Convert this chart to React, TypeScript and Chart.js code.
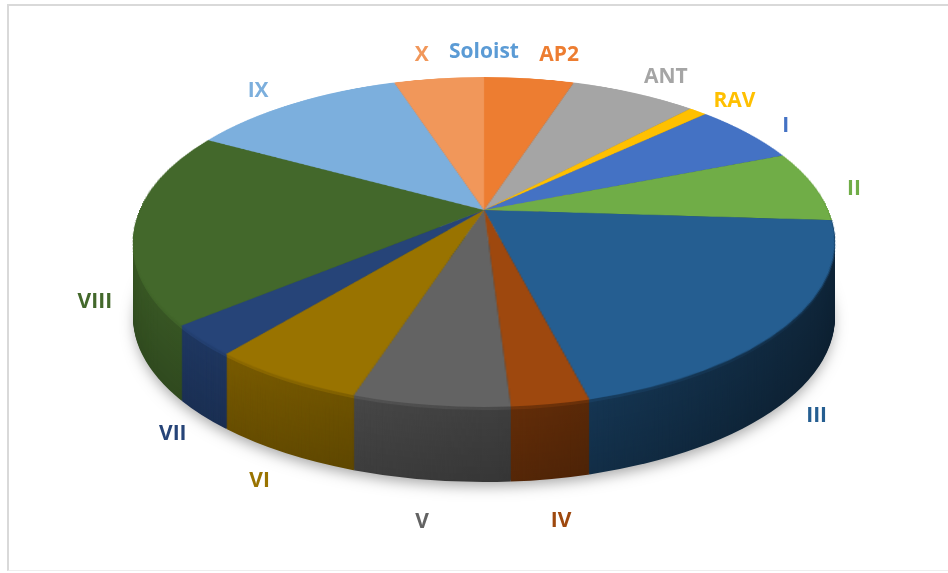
import React, { useEffect, useRef } from "react";
import { Chart, registerables } from "chart.js";

Chart.register(...registerables);

// ---- data ----
const categories = ["AP2", "ANT", "RAV", "I", "II", "III", "IV", "V", "VI", "VII", "VIII", "IX", "X", "Soloist"];
const shares = [5, 7, 1, 6, 7, 20, 3, 6, 6, 3, 19, 12, 5, 0];
const sliceColors = [
  "#ED7D31", "#A5A5A5", "#FFC000", "#4472C4", "#70AD47", "#255E91", "#9E480E",
  "#636363", "#997300", "#264478", "#43682B", "#7CAFDD", "#F1975A", "#5B9BD5",
];

// ---- layout / style ----
const W = 948;
const H = 573;
const RX = 351; // half width of the tilted top face
const TOP_Y = 77; // far edge of the top face
const BOT_Y = 407; // near edge of the top face
const APEX_Y = 210; // where the pie centre lands in perspective
const DEPTH = 75; // thickness
const FONT_SIZE = 21;
const FONT = `bold ${FONT_SIZE}px "Open Sans", Lato, sans-serif`;

// perspective constants: y = (A v + B) / (1 + C v), x = cx + S u / (1 + C v)
const B = APEX_Y;
const C = (BOT_Y + TOP_Y - 2 * B) / (TOP_Y - BOT_Y);
const A = B - TOP_Y + TOP_Y * C;
const S = RX * Math.sqrt(1 - C * C);
const CYE = (TOP_Y + BOT_Y) / 2;
const RY = (BOT_Y - TOP_Y) / 2;

function project(cx: number, u: number, v: number): [number, number] {
  const w = 1 + C * v;
  return [cx + (S * u) / w, (A * v + B) / w];
}
function vOf(y: number) {
  return (B - y) / (y * C - A);
}

function hexToRgb(hex: string): [number, number, number] {
  const h = hex.replace("#", "");
  return [parseInt(h.slice(0, 2), 16), parseInt(h.slice(2, 4), 16), parseInt(h.slice(4, 6), 16)];
}
function shade(hex: string, f: number): string {
  const [r, g, b] = hexToRgb(hex);
  const c = (v: number) => Math.max(0, Math.min(255, Math.round(v * f)));
  return `rgb(${c(r)},${c(g)},${c(b)})`;
}

// chart.js angle (from +x, clockwise) -> parametric angle on the screen ellipse of the rim
function rimParam(cx: number, ang: number) {
  const th = ang + Math.PI / 2;
  const [X, Y] = project(cx, Math.sin(th), -Math.cos(th));
  return Math.atan2((Y - CYE) / RY, (X - cx) / RX);
}

const pie3d = {
  id: "pie3d",
  afterDatasetsDraw(chart: any) {
    const arcs = chart.getDatasetMeta(0).data;
    if (!arcs.length) return;
    const ctx: CanvasRenderingContext2D = chart.ctx;
    const canvas: HTMLCanvasElement = chart.canvas;
    const dpr = chart.currentDevicePixelRatio || 1;
    const cx = arcs[0].x;
    const cy0 = arcs[0].y;
    const r = arcs[0].outerRadius;
    const colors = chart.data.datasets[0].backgroundColor as string[];

    // 1. grab the flat pie that chart.js drew
    const off = document.createElement("canvas");
    const side = Math.ceil(2 * r * dpr);
    off.width = side;
    off.height = side;
    const octx = off.getContext("2d")!;
    octx.drawImage(canvas, (cx - r) * dpr, (cy0 - r) * dpr, 2 * r * dpr, 2 * r * dpr, 0, 0, side, side);

    ctx.save();
    ctx.clearRect(0, 0, chart.width, chart.height);

    // 2. side walls
    const params = arcs.map((arc: any) => {
      let p0 = rimParam(cx, arc.startAngle);
      let p1 = rimParam(cx, arc.endAngle);
      while (p1 < p0) p1 += Math.PI * 2;
      if (arc.endAngle - arc.startAngle <= 1e-9) p1 = p0;
      return [p0, p1];
    });
    for (let d = DEPTH; d >= 1; d--) {
      const f = d <= 3 ? 1.0 : 0.86 - 0.12 * (d / DEPTH);
      arcs.forEach((arc: any, i: number) => {
        const [p0, p1] = params[i];
        if (p1 - p0 <= 0) return;
        ctx.beginPath();
        ctx.moveTo(cx, CYE + d);
        ctx.ellipse(cx, CYE + d, RX, RY, 0, p0, p1);
        ctx.closePath();
        ctx.fillStyle = shade(colors[i], f);
        ctx.fill();
      });
    }
    ctx.globalCompositeOperation = "source-atop";
    const g = ctx.createLinearGradient(cx - RX, 0, cx + RX, 0);
    g.addColorStop(0, "rgba(0,0,0,0.02)");
    g.addColorStop(0.5, "rgba(0,0,0,0.25)");
    g.addColorStop(1, "rgba(0,0,0,0.55)");
    ctx.fillStyle = g;
    ctx.fillRect(0, 0, chart.width, chart.height);
    ctx.globalCompositeOperation = "destination-over";
    ctx.shadowColor = "rgba(0,0,0,0.35)";
    ctx.shadowBlur = 14;
    ctx.shadowOffsetY = 6;
    ctx.fillStyle = "rgb(160,160,160)";
    ctx.beginPath();
    ctx.ellipse(cx, CYE + DEPTH, RX - 2, RY - 2, 0, 0, Math.PI * 2);
    ctx.fill();
    ctx.restore();

    // 3. top face, warped into perspective row by row
    ctx.save();
    ctx.imageSmoothingEnabled = true;
    const yTop = Math.floor(TOP_Y) - 1;
    const yBot = Math.ceil(BOT_Y) + 1;
    for (let y = yTop; y < yBot; y++) {
      let v0 = vOf(y);
      let v1 = vOf(y + 1);
      v0 = Math.max(-1, Math.min(1, v0));
      v1 = Math.max(-1, Math.min(1, v1));
      if (v1 <= v0) continue;
      const vm = (v0 + v1) / 2;
      const half = S / (1 + C * vm);
      const sy = (v0 + 1) * r * dpr;
      const sh = Math.max((v1 - v0) * r * dpr, 0.01);
      ctx.drawImage(off, 0, sy, side, sh, cx - half, y, 2 * half, 1);
    }
    ctx.restore();

    // 4. labels
    const labels = chart.data.labels as string[];
    ctx.save();
    ctx.font = FONT;
    ctx.textAlign = "center";
    ctx.textBaseline = "middle";
    type L = { text: string; x: number; y: number; w: number; h: number; s: number; color: string };
    const items: L[] = arcs.map((arc: any, i: number) => {
      const mid = (arc.startAngle + arc.endAngle) / 2;
      const th = mid + Math.PI / 2;
      let deg = ((th * 180) / Math.PI) % 360;
      if (deg < 0) deg += 360;
      const [rxp, ryp] = project(cx, Math.sin(th), -Math.cos(th));
      let dx = rxp - cx;
      let dy = ryp - APEX_Y;
      const len = Math.hypot(dx, dy) || 1;
      dx /= len;
      dy /= len;
      let wgt = 0;
      if (deg >= 95 && deg <= 265) wgt = 1;
      else if (deg > 80 && deg < 95) wgt = (deg - 80) / 15;
      else if (deg > 265 && deg < 285) wgt = (285 - deg) / 20;
      const s = Math.sin(th);
      const lower = dy > 0.1;
      return {
        text: labels[i],
        x: rxp + dx * (lower ? 32 : 40),
        y: ryp + dy * (dy < 0 ? 25 : 44) + wgt * DEPTH,
        w: ctx.measureText(labels[i]).width,
        h: FONT_SIZE,
        s: Math.abs(s) < 1e-6 ? 0 : s,
        color: colors[i],
      };
    });
    const order = items.slice().sort((a, b) => Math.abs(a.s) - Math.abs(b.s));
    const placed: L[] = [];
    const PAD = 10;
    const overlaps = (a: L, b: L) =>
      Math.abs(a.x - b.x) < (a.w + b.w) / 2 + 2 * PAD && Math.abs(a.y - b.y) < (a.h + b.h) / 2;
    order.forEach((it) => {
      let guard = 0;
      while (it.s !== 0 && placed.some((p) => overlaps(it, p)) && guard < 400) {
        it.x += it.s > 0 ? 1 : -1;
        guard++;
      }
      placed.push(it);
    });
    items.forEach((it) => {
      ctx.fillStyle = it.color;
      ctx.fillText(it.text, it.x, it.y);
    });
    ctx.restore();
  },
};

export default function App() {
  const ref = useRef<HTMLCanvasElement>(null);
  useEffect(() => {
    if (!ref.current) return;
    const chart = new Chart(ref.current, {
      type: "pie",
      data: {
        labels: categories,
        datasets: [
          {
            data: shares,
            backgroundColor: sliceColors,
            borderWidth: 0,
          },
        ],
      },
      options: {
        responsive: false,
        animation: false,
        layout: { padding: { left: 20, right: 0, top: 0, bottom: 89 } },
        plugins: {
          legend: { display: false },
          tooltip: { enabled: false },
        },
      },
      plugins: [pie3d],
    });
    return () => chart.destroy();
  }, []);

  return (
    <div style={{ position: "fixed", left: 0, top: 0, width: W, height: H, overflow: "hidden", background: "#fff" }}>
      <div
        style={{
          position: "absolute",
          left: 7,
          top: 4,
          width: 960,
          height: 564,
          borderTop: "2px solid #d9d9d9",
          borderLeft: "2px solid #d9d9d9",
          borderBottom: "1px solid #eeeeee",
        }}
      />
      <canvas ref={ref} width={W} height={H} style={{ position: "absolute", left: 0, top: 0 }} />
    </div>
  );
}
